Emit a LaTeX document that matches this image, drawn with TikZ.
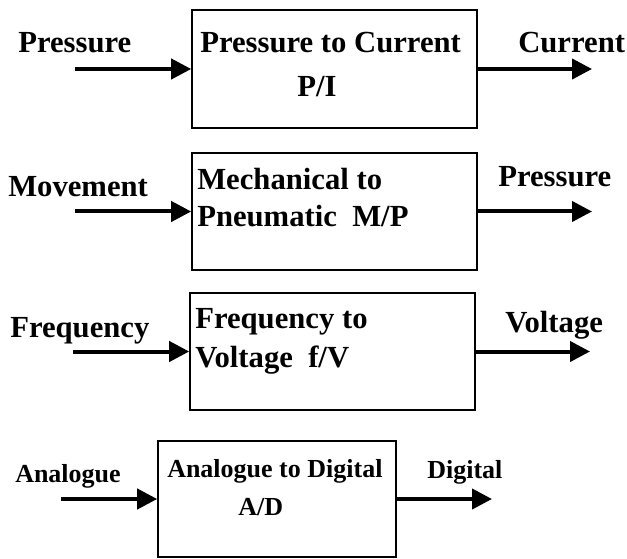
\documentclass[tikz,border=0pt]{standalone}
\usepackage{fontspec}
\setmainfont{Liberation Serif}
\usetikzlibrary{arrows.meta}
\begin{document}
\begin{tikzpicture}[x=0.75pt,y=-0.75pt,
  blk/.style={draw,line width=1.2pt,inner sep=0pt},
  arr/.style={line width=3pt,-{Triangle[length=15pt,width=15pt]}},
  lbl/.style={inner sep=0pt,anchor=base west,font=\fontsize{23}{25}\bfseries},
  lbld/.style={inner sep=0pt,anchor=base west,font=\fontsize{19.5}{21}\bfseries}]
\useasboundingbox (0,0) rectangle (627,559);
% pressure to current
\node[blk,minimum width=213.75pt,minimum height=88.5pt] (pi) at (334.5,69) {};
\coordinate (piin) at (75,69);
\coordinate (piout) at (592,69);
\draw[arr] (piin) -- (pi.west);
\draw[arr] (pi.east) -- (piout);
\node[lbl] (pilin) at (18,53) {Pressure};
\node[lbl] (pilout) at (518,53) {Current};
\node[lbl] (pit1) at (200,53) {Pressure to Current};
\node[lbl] (pit2) at (297,97) {P/I};
% mechanical to pneumatic
\node[blk,minimum width=213.75pt,minimum height=87.75pt] (mp) at (334.5,211.5) {};
\coordinate (mpin) at (75,211.5);
\coordinate (mpout) at (592,211.5);
\draw[arr] (mpin) -- (mp.west);
\draw[arr] (mp.east) -- (mpout);
\node[lbl] (mplin) at (8,197) {Movement};
\node[lbl] (mplout) at (498,187) {Pressure};
\node[lbl] (mpt1) at (197,190) {Mechanical to};
\node[lbl] (mpt2) at (197,227) {Pneumatic\ \ M/P};
% frequency to voltage
\node[blk,minimum width=213.75pt,minimum height=87.75pt] (fv) at (332.5,351.5) {};
\coordinate (fvin) at (73,351.5);
\coordinate (fvout) at (590,351.5);
\draw[arr] (fvin) -- (fv.west);
\draw[arr] (fv.east) -- (fvout);
\node[lbl] (fvlin) at (10,337) {Frequency};
\node[lbl] (fvlout) at (505,332) {Voltage};
\node[lbl] (fvt1) at (195,328) {Frequency to};
\node[lbl] (fvt2) at (195,367) {Voltage\ \ f/V};
% analogue to digital
\node[blk,minimum width=178.5pt,minimum height=87pt] (ad) at (277,499) {};
\coordinate (adin) at (61,499);
\coordinate (adout) at (492,499);
\draw[arr] (adin) -- (ad.west);
\draw[arr] (ad.east) -- (adout);
\node[lbld] (adlin) at (15,482) {Analogue};
\node[lbld] (adlout) at (427,478) {Digital};
\node[lbld] (adt1) at (167,477) {Analogue to Digital};
\node[lbld] (adt2) at (238,515) {A/D};
\end{tikzpicture}
\end{document}
